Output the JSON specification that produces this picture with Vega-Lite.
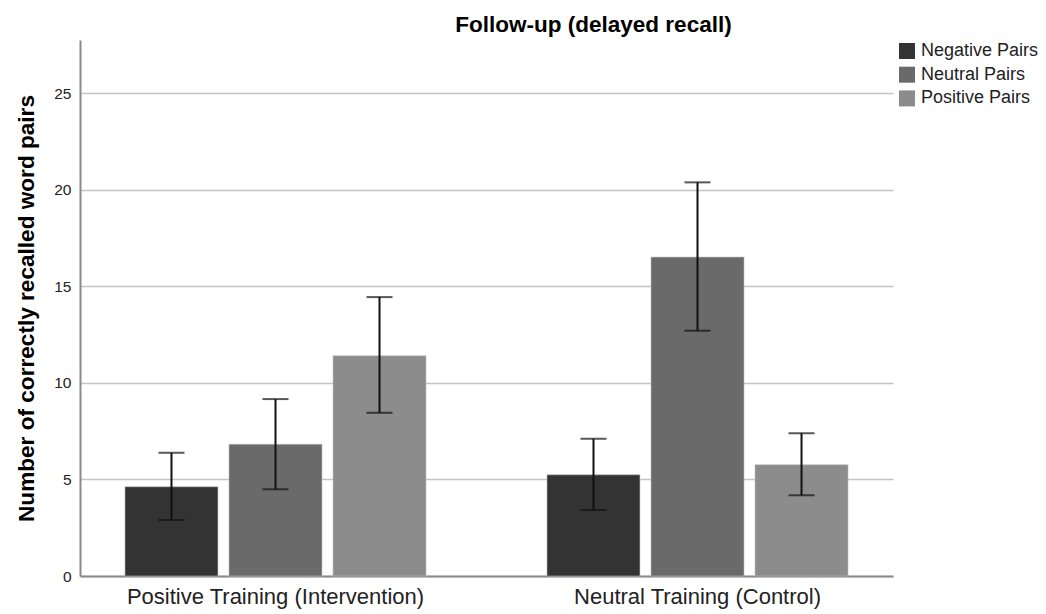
{
  "$schema": "https://vega.github.io/schema/vega-lite/v6.json",
  "autosize": {"type": "none"},
  "padding": {"left": 80, "top": 40, "right": 153, "bottom": 38},
  "width": 813,
  "height": 536,
  "background": "white",
  "title": {
    "text": "Follow-up  (delayed recall)",
    "font": "Liberation Sans",
    "fontSize": 22.5,
    "fontWeight": "bold",
    "color": "#000000",
    "anchor": "middle",
    "frame": "group",
    "dx": 107,
    "baseline": "alphabetic",
    "offset": -14
  },
  "data": {
    "values": [
      {"group": "Positive Training (Intervention)", "pairs": "Negative Pairs", "mean": 4.62, "lo": 2.90, "hi": 6.38},
      {"group": "Positive Training (Intervention)", "pairs": "Neutral Pairs", "mean": 6.82, "lo": 4.49, "hi": 9.16},
      {"group": "Positive Training (Intervention)", "pairs": "Positive Pairs", "mean": 11.40, "lo": 8.45, "hi": 14.44},
      {"group": "Neutral Training (Control)", "pairs": "Negative Pairs", "mean": 5.24, "lo": 3.42, "hi": 7.11},
      {"group": "Neutral Training (Control)", "pairs": "Neutral Pairs", "mean": 16.51, "lo": 12.70, "hi": 20.38},
      {"group": "Neutral Training (Control)", "pairs": "Positive Pairs", "mean": 5.76, "lo": 4.18, "hi": 7.39}
    ]
  },
  "encoding": {
    "x": {
      "field": "group",
      "type": "nominal",
      "sort": ["Positive Training (Intervention)", "Neutral Training (Control)"],
      "scale": {"paddingInner": 0.2867, "paddingOuter": 0.1066},
      "axis": {
        "title": null,
        "labelAngle": 0,
        "labelLimit": 0,
        "ticks": false,
        "labelFont": "Liberation Sans",
        "labelFontSize": 22,
        "labelColor": "#222222",
        "labelPadding": 10,
        "domainColor": "#8a8a8a",
        "domainWidth": 2
      }
    },
    "xOffset": {
      "field": "pairs",
      "type": "nominal",
      "sort": ["Negative Pairs", "Neutral Pairs", "Positive Pairs"],
      "scale": {"paddingInner": 0.106, "paddingOuter": 0}
    }
  },
  "layer": [
    {
      "mark": {"type": "bar", "stroke": "#bdbdbd", "strokeWidth": 0.6},
      "encoding": {
        "y": {
          "field": "mean",
          "type": "quantitative",
          "stack": null,
          "scale": {"domain": [0, 27.75], "nice": false},
          "axis": {
            "title": "Number of correctly recalled word pairs",
            "values": [0, 5, 10, 15, 20, 25],
            "ticks": false,
            "labelFont": "Liberation Sans",
            "labelFontSize": 15.5,
            "labelColor": "#222222",
            "labelPadding": 9,
            "domainColor": "#8a8a8a",
            "domainWidth": 2,
            "gridColor": "#c4c4c4",
            "gridWidth": 1.5,
            "titleFont": "Liberation Sans",
            "titleFontSize": 22.6,
            "titleFontWeight": "bold",
            "titleColor": "#000000",
            "titleAngle": -90,
            "titleAlign": "center",
            "titleBaseline": "middle",
            "titleX": -54,
            "titleY": 268
          }
        },
        "color": {
          "field": "pairs",
          "type": "nominal",
          "sort": ["Negative Pairs", "Neutral Pairs", "Positive Pairs"],
          "scale": {"domain": ["Negative Pairs", "Neutral Pairs", "Positive Pairs"], "range": ["#333333", "#6a6a6a", "#8c8c8c"]},
          "legend": {
            "title": null,
            "orient": "none",
            "legendX": 818,
            "legendY": 2,
            "padding": 0,
            "symbolType": "square",
            "symbolSize": 256,
            "symbolStrokeWidth": 0,
            "labelFont": "Liberation Sans",
            "labelFontSize": 18,
            "labelColor": "#222222",
            "labelOffset": 5,
            "rowPadding": 5.7
          }
        }
      }
    },
    {
      "mark": {"type": "rule", "color": "#111111", "strokeWidth": 2},
      "encoding": {
        "y": {"field": "lo", "type": "quantitative"},
        "y2": {"field": "hi"}
      }
    },
    {
      "mark": {"type": "tick", "color": "#111111", "thickness": 2, "size": 26},
      "encoding": {
        "y": {"field": "lo", "type": "quantitative"}
      }
    },
    {
      "mark": {"type": "tick", "color": "#111111", "thickness": 2, "size": 26},
      "encoding": {
        "y": {"field": "hi", "type": "quantitative"}
      }
    }
  ],
  "config": {
    "view": {"stroke": null}
  }
}
